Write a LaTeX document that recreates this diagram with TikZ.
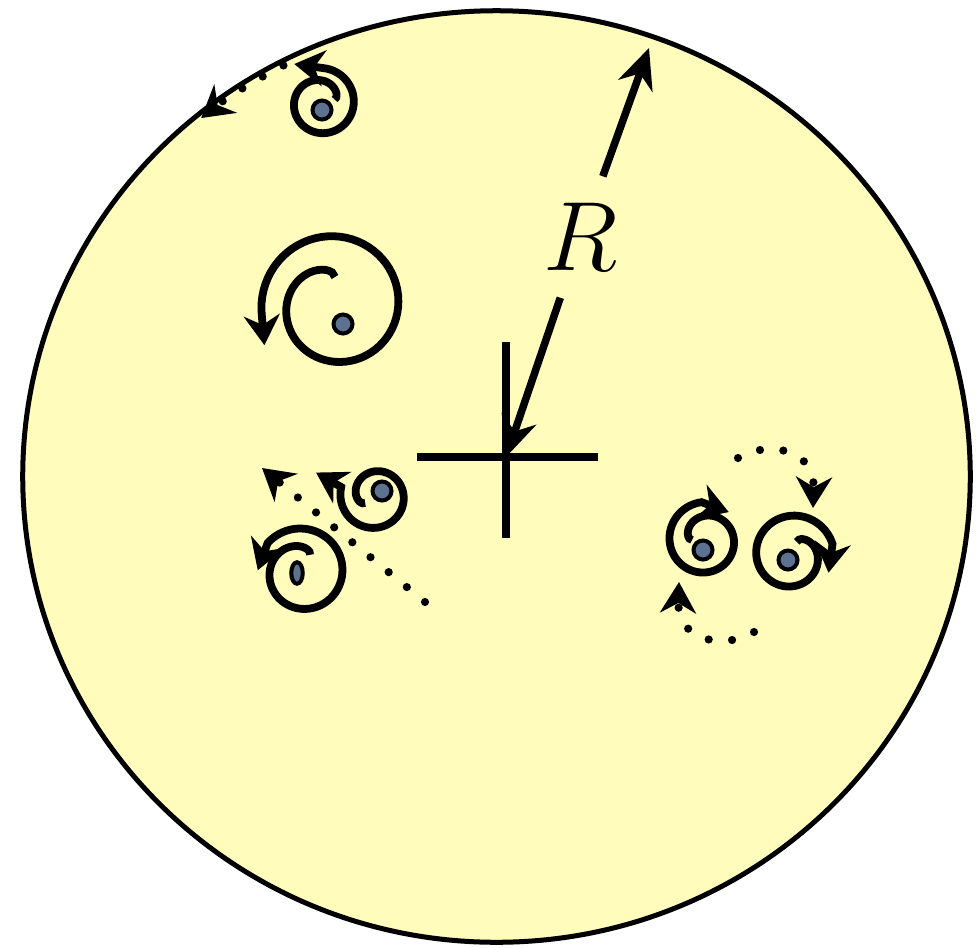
\RequirePackage{fix-cm}
\documentclass[tikz,border=0pt]{standalone}
\usetikzlibrary{arrows.meta,shapes.geometric}
\definecolor{diskfill}{RGB}{255,252,188}
\definecolor{slate}{RGB}{93,114,144}
% spiral: centre x, centre y, inner and outer radius, start and end angle, tip direction
\newcommand{\swirl}[7]{%
  \draw[swirl] plot[domain=0:1, samples=90, variable=\s]
    ({#1+(#3+(#4-#3)*sqrt(\s))*cos(#5+((#6)-(#5))*\s)},
     {#2+(#3+(#4-#3)*sqrt(\s))*sin(#5+((#6)-(#5))*\s)}) -- ++(#7:29);}
\begin{document}
\begin{tikzpicture}[x=0.01cm, y=0.01cm,
  swirl/.style={line width=0.078cm, -{Stealth[length=0.3cm, width=0.36cm]}},
  flow/.style={line width=0.082cm, line cap=round, dash pattern=on 0pt off 0.235cm,
    -{Stealth[length=0.31cm, width=0.36cm]}},
  vortex/.style={circle, draw, fill=slate, line width=0.04cm, minimum size=0.19cm, inner sep=0pt},
  bar/.style={line width=0.075cm}]
  \useasboundingbox (0,0) rectangle (976,947);
  \coordinate (ctr) at (496.5,470.5);
  \draw[line width=0.05cm, fill=diskfill] (ctr) ellipse [x radius=4.735cm, y radius=4.655cm];
  % centre mark and radius
  \coordinate (hub) at (506,490);
  \coordinate (edge) at (649,899);
  \draw[bar] ([xshift=-0.89cm]hub) -- ([xshift=0.92cm]hub);
  \draw[bar] ([yshift=1.15cm]hub) -- ([yshift=-0.81cm]hub);
  \node[inner xsep=2pt, inner ysep=7.5pt, font=\fontsize{28}{30}\selectfont] (R) at (581,710) {$R$};
  \draw[bar, -{Stealth[length=0.4cm, width=0.36cm]}] (R) -- (hub);
  \draw[bar, -{Stealth[length=0.4cm, width=0.36cm]}] (R) -- (edge);
  % spirals
  \swirl{321}{844}{14}{35}{15}{447}{172}
  \swirl{335}{642}{28}{74}{90}{549}{275}
  \swirl{375}{451}{12}{35}{215}{-195}{150}
  \swirl{302}{375}{19}{45}{65}{500}{250}
  \swirl{705}{407}{13}{38}{180}{-265}{-20}
  \swirl{792}{392}{14}{42}{70}{-345}{262}
  % vortices
  \node[vortex] (v1) at (322,837) {};
  \node[vortex] (v2) at (343,623) {};
  \node[vortex] (v3) at (382,456) {};
  \node[vortex, ellipse, minimum width=0.115cm, minimum height=0.215cm] (v4) at (297,374) {};
  \node[vortex] (v5) at (703,397) {};
  \node[vortex] (v6) at (788,387) {};
  % drift
  \draw[flow] ([shift={(117:4.69cm and 4.61cm)}]ctr) arc[start angle=117, end angle=129, x radius=4.69cm, y radius=4.61cm];
  \draw[flow] (425,345) -- (262,479);
  \draw[flow] (738,489) .. controls (765,506) and (815,500) .. (813,439);
  \draw[flow] (754,315) .. controls (727,298) and (677,304) .. (679,365);
\end{tikzpicture}
\end{document}
